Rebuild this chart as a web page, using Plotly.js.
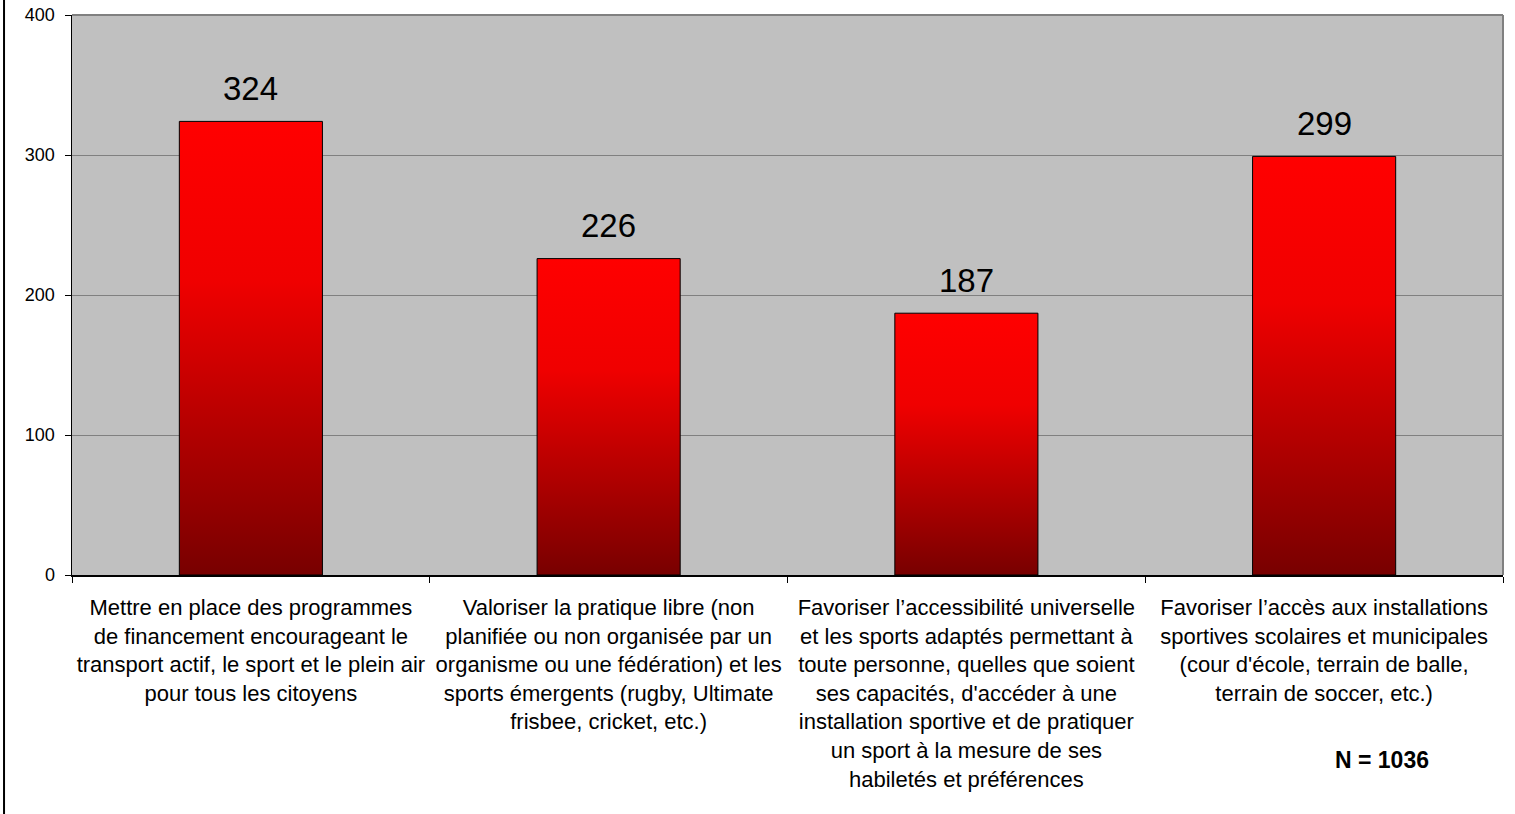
<!DOCTYPE html>
<html>
<head>
<meta charset="utf-8">
<script src="https://cdn.plot.ly/plotly-3.0.1.min.js"></script>
<style>
  html, body { margin: 0; padding: 0; background: #fff; }
  #chart { width: 1515px; height: 814px; }
</style>
</head>
<body>
<div id="chart"></div>
<script>
const categories = [
  "Mettre en place des programmes<br>de financement encourageant le<br>transport actif, le sport et le plein air<br>pour tous les citoyens",
  "Valoriser la pratique libre (non<br>planifiée ou non organisée par un<br>organisme ou une fédération) et les<br>sports émergents (rugby, Ultimate<br>frisbee, cricket, etc.)",
  "Favoriser l’accessibilité universelle<br>et les sports adaptés permettant à<br>toute personne, quelles que soient<br>ses capacités, d'accéder à une<br>installation sportive et de pratiquer<br>un sport à la mesure de ses<br>habiletés et préférences",
  "Favoriser l’accès aux installations<br>sportives scolaires et municipales<br>(cour d'école, terrain de balle,<br>terrain de soccer, etc.)"
];
const values = [324, 226, 187, 299];
const yTicks = [0, 100, 200, 300, 400];
const noteText = "N = 1036";

const FONT = "'Liberation Sans', Arial, sans-serif";

const trace = {
  type: "bar",
  x: categories,
  y: values,
  width: 0.4,
  marker: { color: "#c00000", line: { color: "#000000", width: 1 } },
  hoverinfo: "none"
};

const annotations = values.map((v, i) => ({
  x: categories[i], y: v, xref: "x", yref: "y",
  text: String(v), showarrow: false,
  yanchor: "middle", yshift: 33,
  font: { family: FONT, size: 33, color: "#000" }
}));
annotations.push({
  xref: "paper", yref: "paper", x: 0.9154, y: -0.330,
  text: "<b>" + noteText + "</b>", showarrow: false,
  xanchor: "center", yanchor: "middle",
  font: { family: FONT, size: 23, color: "#000" }
});

const layout = {
  width: 1515, height: 814,
  margin: { l: 72, r: 12, t: 15, b: 239 },
  paper_bgcolor: "#ffffff",
  plot_bgcolor: "#c0c0c0",
  showlegend: false,
  font: { family: FONT, color: "#000" },
  xaxis: {
    type: "category",
    showline: true, linecolor: "#000", linewidth: 1.5,
    ticks: "outside", tickson: "boundaries", ticklen: 6, tickcolor: "#000",
    ticklabelstandoff: 12,
    tickfont: { family: FONT, size: 22, color: "#000" },
    showgrid: false, zeroline: false
  },
  yaxis: {
    range: [0, 400],
    tickvals: yTicks,
    showline: true, linecolor: "#000", linewidth: 1.5,
    ticks: "outside", ticklen: 6, tickcolor: "#000",
    ticklabelstandoff: 6,
    tickfont: { family: FONT, size: 18, color: "#000" },
    showgrid: true, gridcolor: "#808080", gridwidth: 1,
    zeroline: false
  },
  annotations: annotations,
  shapes: [
    { type: "line", xref: "paper", yref: "paper", x0: 0, x1: 1, y0: 1, y1: 1,
      line: { color: "#808080", width: 2 }, layer: "above" },
    { type: "line", xref: "paper", yref: "paper", x0: 1, x1: 1, y0: 0, y1: 1,
      line: { color: "#808080", width: 2 }, layer: "above" },
    { type: "line", xref: "paper", yref: "paper", x0: -0.0475, x1: -0.0475, y0: -0.5, y1: 1.1,
      line: { color: "#000", width: 2 }, layer: "above" }
  ]
};

Plotly.newPlot("chart", [trace], layout, { displayModeBar: false, staticPlot: true }).then(function (gd) {
  const svg = gd.querySelector("svg.main-svg");
  const ns = "http://www.w3.org/2000/svg";
  let defs = svg.querySelector("defs");
  if (!defs) { defs = document.createElementNS(ns, "defs"); svg.insertBefore(defs, svg.firstChild); }
  const grad = document.createElementNS(ns, "linearGradient");
  grad.setAttribute("id", "barRedGrad");
  grad.setAttribute("x1", "0"); grad.setAttribute("y1", "0");
  grad.setAttribute("x2", "0"); grad.setAttribute("y2", "1");
  [["0", "#ff0000"], ["0.35", "#f00000"], ["1", "#780000"]].forEach(function (s) {
    const st = document.createElementNS(ns, "stop");
    st.setAttribute("offset", s[0]);
    st.setAttribute("stop-color", s[1]);
    grad.appendChild(st);
  });
  defs.appendChild(grad);
  gd.querySelectorAll(".trace.bars .point path").forEach(function (p) {
    p.style.fill = "url(#barRedGrad)";
  });
});
</script>
</body>
</html>
